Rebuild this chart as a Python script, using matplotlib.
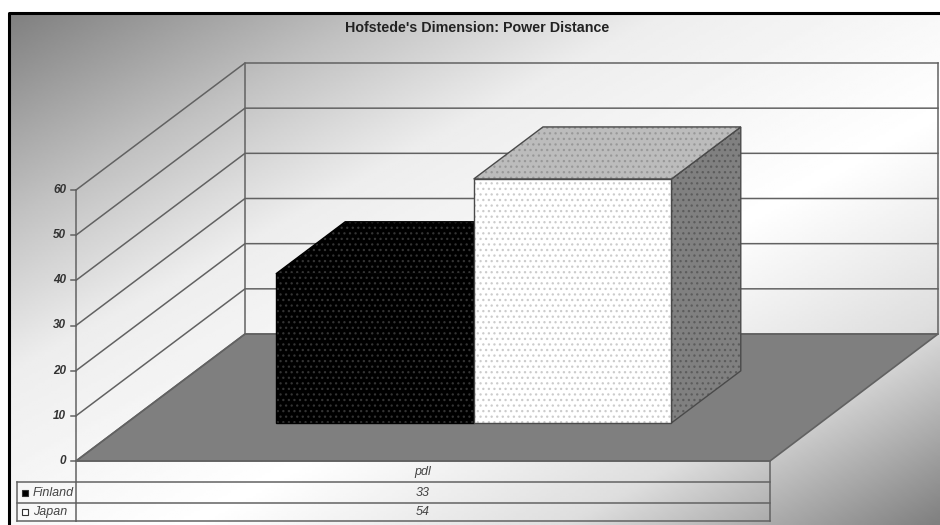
import numpy as np
import matplotlib
matplotlib.use('Agg')
import matplotlib.pyplot as plt
from matplotlib.patches import Polygon, Rectangle

plt.rcParams['font.family'] = ['Liberation Sans', 'DejaVu Sans']
plt.rcParams['hatch.linewidth'] = 0.9

title = "Hofstede's Dimension: Power Distance"
category = 'pdl'
series_names = ['Finland', 'Japan']
series_values = [33, 54]
y_ticks = [0, 10, 20, 30, 40, 50, 60]

# 3D projection onto picture pixels: x 0-1 across, v = value, z 0-1 into the page
X0, Y0 = 76, 461
X_LEN = 694
DX, DY = 169, -127
V_SCALE = 271 / 60
GAP = 0.215
BAR_W = (1 - 2 * GAP) / 2
Z_FRONT, Z_BACK = 0.30, 0.71


def proj(x, v, z):
    return (X0 + x * X_LEN + z * DX, Y0 - v * V_SCALE + z * DY)


fig = plt.figure(figsize=(9.4, 5.25), dpi=100, facecolor='white')
ax = fig.add_axes([0, 0, 1, 1])
ax.axis('off')

# ── Background gradient, only left and top have a black frame ─
F_L, F_T, F_R, F_B = 9, 13, 940, 525
xx, yy = np.meshgrid(np.linspace(0, 1, 300), np.linspace(0, 1, 200))
t = (xx + yy) / 2
grad = np.interp(t, [0, 0.2, 0.35, 0.6, 0.8, 1], [0.50, 0.76, 0.93, 1.0, 0.87, 0.50])
ax.imshow(grad, extent=[F_L, F_R, F_B, F_T], cmap='gray', vmin=0, vmax=1,
          aspect='auto', zorder=0)
ax.set_xlim(0, 940)
ax.set_ylim(525, 0)
ax.plot([F_L, F_L, F_R], [F_B, F_T, F_T], color='black', lw=2.2, zorder=9)

# ── Walls and floor ──────────────────────────────────────────
LINE = '#626262'
far_right = (938 - X0 - DX) / X_LEN
floor = [proj(0, 0, 0), proj(0, 0, 1), proj(far_right, 0, 1), proj(1, 0, 0)]
ax.add_patch(Polygon(floor, closed=True, fc='#7f7f7f', ec=LINE, lw=1.2, zorder=1))

vmax = y_ticks[-1]
for v in y_ticks:
    a, b, c = proj(0, v, 0), proj(0, v, 1), proj(far_right, v, 1)
    ax.plot([a[0], b[0], c[0]], [a[1], b[1], c[1]], color=LINE, lw=1.1, zorder=2)
    ax.plot([a[0] - 5, a[0]], [a[1], a[1]], color=LINE, lw=1.1, zorder=2)
    ax.text(a[0] - 10, a[1], str(v), ha='right', va='center', fontsize=8.5,
            fontweight='bold', fontstyle='italic', color='#333333', zorder=3)

for x, z in [(0, 0), (0, 1), (far_right, 1)]:
    a, b = proj(x, 0, z), proj(x, vmax, z)
    ax.plot([a[0], b[0]], [a[1], b[1]], color=LINE, lw=1.1, zorder=2)

# ── Bars ─────────────────────────────────────────────────────
bar_styles = [
    {'front': ('#000000', '#333333'), 'top': ('#000000', '#333333'), 'side': ('#000000', '#333333'),
     'edge': '#000000'},
    {'front': ('#ffffff', '#cccccc'), 'top': ('#bcbcbc', '#989898'), 'side': ('#808080', '#5c5c5c'),
     'edge': '#4a4a4a'},
]
for i, (val, st) in enumerate(zip(series_values, bar_styles)):
    x0 = GAP + i * BAR_W
    x1 = x0 + BAR_W
    faces = [
        ('side', [proj(x1, 0, Z_FRONT), proj(x1, 0, Z_BACK), proj(x1, val, Z_BACK), proj(x1, val, Z_FRONT)]),
        ('top', [proj(x0, val, Z_FRONT), proj(x1, val, Z_FRONT), proj(x1, val, Z_BACK), proj(x0, val, Z_BACK)]),
        ('front', [proj(x0, 0, Z_FRONT), proj(x1, 0, Z_FRONT), proj(x1, val, Z_FRONT), proj(x0, val, Z_FRONT)]),
    ]
    for name, pts in faces:
        fc, dots = st[name]
        ax.add_patch(Polygon(pts, closed=True, fc=fc, ec=dots, hatch='...', lw=0, zorder=4 + i))
        ax.add_patch(Polygon(pts, closed=True, fill=False, ec=st['edge'], lw=1, zorder=4 + i))

# ── Data table under the chart ───────────────────────────────
row_edges = [461, 482, 503, 521]
LEG_L = 17

for y in row_edges:
    ax.plot([X0, X0 + X_LEN], [y, y], color=LINE, lw=1.1, zorder=6)
for y in row_edges[1:]:
    ax.plot([LEG_L, X0], [y, y], color=LINE, lw=1.1, zorder=6)
ax.plot([X0, X0], [row_edges[0], row_edges[-1]], color=LINE, lw=1.1, zorder=6)
ax.plot([X0 + X_LEN] * 2, [row_edges[0], row_edges[-1]], color=LINE, lw=1.1, zorder=6)
ax.plot([LEG_L, LEG_L], [row_edges[1], row_edges[-1]], color=LINE, lw=1.1, zorder=6)

mid_x = X0 + X_LEN / 2
ax.text(mid_x, (row_edges[0] + row_edges[1]) / 2, category, ha='center', va='center',
        fontsize=9, fontstyle='italic', color='#444444', zorder=7)
swatch_colors = ['black', 'white']
for i, (name, val) in enumerate(zip(series_names, series_values)):
    yc = (row_edges[i + 1] + row_edges[i + 2]) / 2
    ax.text(mid_x, yc, str(val), ha='center', va='center', fontsize=9,
            fontstyle='italic', color='#444444', zorder=7)
    ax.add_patch(Rectangle((22, yc - 3), 6, 6, fc=swatch_colors[i], ec='#333333', lw=0.8, zorder=7))
    ax.text(33, yc, name, ha='left', va='center', fontsize=9, fontstyle='italic',
            color='#444444', zorder=7)

ax.text(477, 28, title, ha='center', va='center', fontsize=10.3, fontweight='bold',
        color='#222222', zorder=7)

fig.savefig('out.png', dpi=100)
